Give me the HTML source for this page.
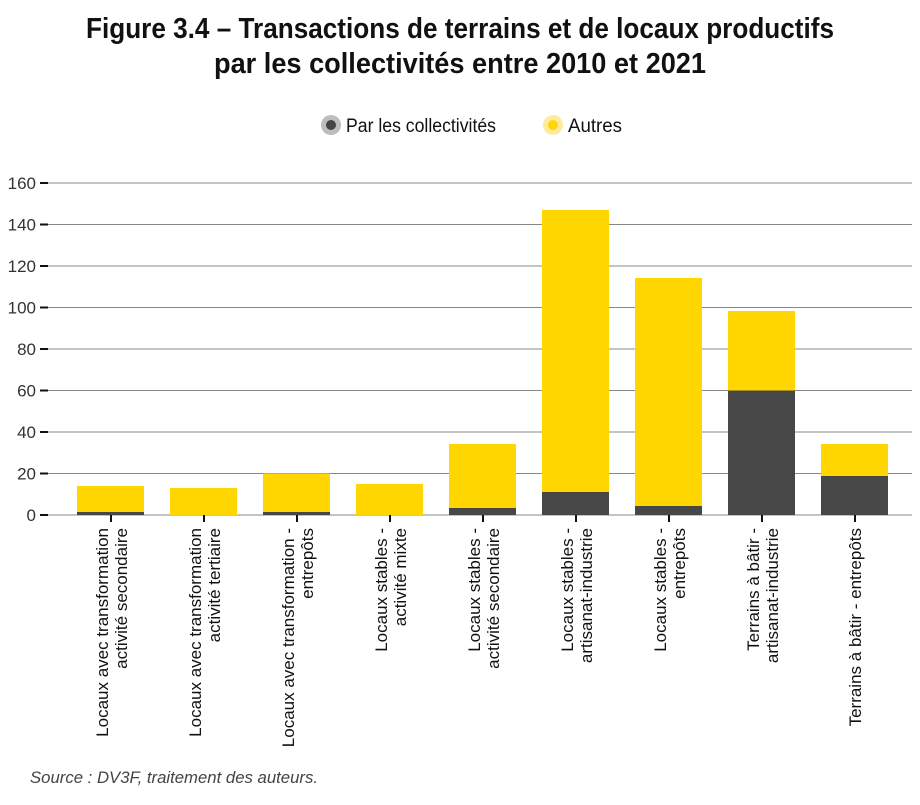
<!DOCTYPE html>
<html><head><meta charset="utf-8"><style>
body{margin:0;background:#fff}
svg text{font-family:"Liberation Sans Narrow","Liberation Sans",sans-serif}
</style></head><body>
<svg width="920" height="800" viewBox="0 0 920 800" xmlns="http://www.w3.org/2000/svg">
<text x="460" y="38" text-anchor="middle" font-weight="bold" font-size="29" fill="#111" textLength="748" lengthAdjust="spacingAndGlyphs">Figure 3.4 – Transactions de terrains et de locaux productifs</text>
<text x="460" y="73" text-anchor="middle" font-weight="bold" font-size="29" fill="#111" textLength="492" lengthAdjust="spacingAndGlyphs">par les collectivités entre 2010 et 2021</text>
<circle cx="331" cy="125" r="10" fill="#bdbdbd"/><circle cx="331" cy="125" r="5" fill="#444"/>
<text x="346" y="132" font-size="19" fill="#111" textLength="150" lengthAdjust="spacingAndGlyphs">Par les collectivités</text>
<circle cx="553" cy="125" r="10" fill="#fdeba0"/><circle cx="553" cy="125" r="5" fill="#ffd600"/>
<text x="568" y="132" font-size="19" fill="#111" textLength="54" lengthAdjust="spacingAndGlyphs">Autres</text>
<g stroke="#888" stroke-width="1">
<line x1="48" y1="183" x2="912" y2="183"/><line x1="48" y1="224.5" x2="912" y2="224.5"/><line x1="48" y1="266" x2="912" y2="266"/><line x1="48" y1="307.5" x2="912" y2="307.5"/><line x1="48" y1="349" x2="912" y2="349"/><line x1="48" y1="390.5" x2="912" y2="390.5"/><line x1="48" y1="432" x2="912" y2="432"/><line x1="48" y1="473.5" x2="912" y2="473.5"/><line x1="48" y1="515" x2="912" y2="515"/>
</g>
<g stroke="#111" stroke-width="2">
<line x1="40" y1="183" x2="48" y2="183"/><line x1="40" y1="224.5" x2="48" y2="224.5"/><line x1="40" y1="266" x2="48" y2="266"/><line x1="40" y1="307.5" x2="48" y2="307.5"/><line x1="40" y1="349" x2="48" y2="349"/><line x1="40" y1="390.5" x2="48" y2="390.5"/><line x1="40" y1="432" x2="48" y2="432"/><line x1="40" y1="473.5" x2="48" y2="473.5"/><line x1="40" y1="515" x2="48" y2="515"/>
</g>
<g font-size="17" fill="#333" text-anchor="end">
<text x="36" y="189">160</text><text x="36" y="230.5">140</text><text x="36" y="272">120</text><text x="36" y="313.5">100</text><text x="36" y="355">80</text><text x="36" y="396.5">60</text><text x="36" y="438">40</text><text x="36" y="479.5">20</text><text x="36" y="521">0</text>
</g>
<g>
<rect x="77" y="486" width="67" height="29" fill="#ffd600"/><rect x="77" y="512" width="67" height="3" fill="#474747"/>
<rect x="170" y="488" width="67" height="27" fill="#ffd600"/>
<rect x="263" y="473.5" width="67" height="41.5" fill="#ffd600"/><rect x="263" y="512" width="67" height="3" fill="#474747"/>
<rect x="356" y="484" width="67" height="31" fill="#ffd600"/>
<rect x="449" y="444" width="67" height="71" fill="#ffd600"/><rect x="449" y="508" width="67" height="7" fill="#474747"/>
<rect x="542" y="210" width="67" height="305" fill="#ffd600"/><rect x="542" y="492" width="67" height="23" fill="#474747"/>
<rect x="635" y="278" width="67" height="237" fill="#ffd600"/><rect x="635" y="506" width="67" height="9" fill="#474747"/>
<rect x="728" y="311" width="67" height="204" fill="#ffd600"/><rect x="728" y="390.5" width="67" height="124.5" fill="#474747"/>
<rect x="821" y="444" width="67" height="71" fill="#ffd600"/><rect x="821" y="476" width="67" height="39" fill="#474747"/>
</g>
<g stroke="#111" stroke-width="2">
<line x1="111" y1="515" x2="111" y2="522"/><line x1="204" y1="515" x2="204" y2="522"/><line x1="297" y1="515" x2="297" y2="522"/><line x1="390" y1="515" x2="390" y2="522"/><line x1="483" y1="515" x2="483" y2="522"/><line x1="576" y1="515" x2="576" y2="522"/><line x1="669" y1="515" x2="669" y2="522"/><line x1="762" y1="515" x2="762" y2="522"/><line x1="855" y1="515" x2="855" y2="522"/>
</g>
<g font-size="17" fill="#111" text-anchor="end">
<g transform="translate(108,528) rotate(-90)"><text>Locaux avec transformation</text><text y="19">activité secondaire</text></g>
<g transform="translate(201,528) rotate(-90)"><text>Locaux avec transformation</text><text y="19">activité tertiaire</text></g>
<g transform="translate(294,528) rotate(-90)"><text>Locaux avec transformation -</text><text y="19">entrepôts</text></g>
<g transform="translate(387,528) rotate(-90)"><text>Locaux stables -</text><text y="19">activité mixte</text></g>
<g transform="translate(480,528) rotate(-90)"><text>Locaux stables -</text><text y="19">activité secondaire</text></g>
<g transform="translate(573,528) rotate(-90)"><text>Locaux stables -</text><text y="19">artisanat-industrie</text></g>
<g transform="translate(666,528) rotate(-90)"><text>Locaux stables -</text><text y="19">entrepôts</text></g>
<g transform="translate(759,528) rotate(-90)"><text>Terrains à bâtir -</text><text y="19">artisanat-industrie</text></g>
<g transform="translate(861,528) rotate(-90)"><text>Terrains à bâtir - entrepôts</text></g>
</g>
<text x="30" y="783" font-size="17" font-style="italic" fill="#444" textLength="288" lengthAdjust="spacingAndGlyphs">Source : DV3F, traitement des auteurs.</text>
</svg>
</body></html>
